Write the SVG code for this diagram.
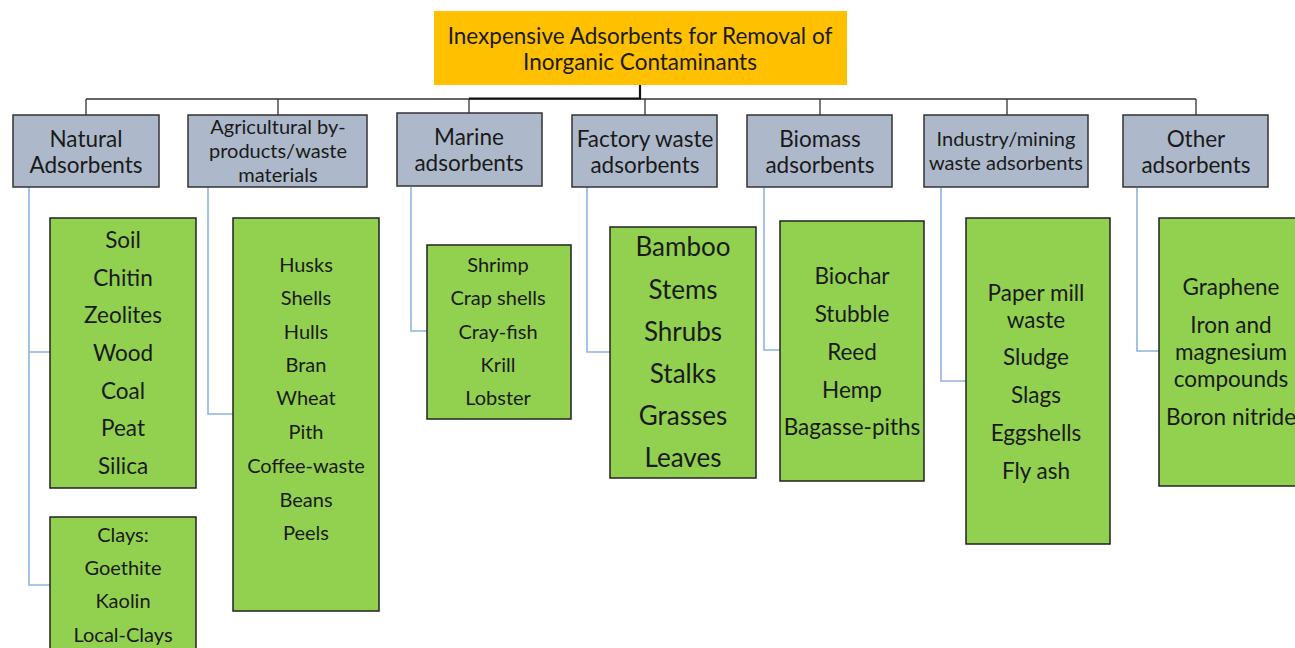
<svg xmlns="http://www.w3.org/2000/svg" width="1295" height="648" viewBox="0 0 1295 648">
<style>
text{font-family:Lato,"Liberation Sans",sans-serif;fill:#1a1a1a;text-anchor:middle;dominant-baseline:central}
.root{fill:#FFC000}
.cat{fill:#ADB9CA;stroke:#333;stroke-width:1.5}
.leaf{fill:#92D050;stroke:#222;stroke-width:1.5}
.t20{font-size:22.5px}
.t17{font-size:20px}
.t18{font-size:20px}
.t24{font-size:26px}
.tree{fill:none;stroke:#333;stroke-width:1.3}
.blue{fill:none;stroke:#8DB4E2;stroke-width:1.6}
</style>
<rect width="1295" height="648" fill="#fff"/>
<g id="connectors">
<path class="tree" d="M640 85V99M86 99H1196M86 99V115M278 99V115M469 99V113M645 99V115M820 99V115M1007 99V115M1196 99V115"/>
<path d="M640 85V98.5H469" fill="none" stroke="#111" stroke-width="2.2"/>
<path class="blue" d="M29 187V585H50M29 352H50"/>
<path class="blue" d="M208 187V414H233"/>
<path class="blue" d="M411 187V331H427"/>
<path class="blue" d="M587 187V352H610"/>
<path class="blue" d="M764 188V350H780"/>
<path class="blue" d="M941 188V381H966"/>
<path class="blue" d="M1137 188V351H1159"/>
</g>
<g id="root">
<rect class="root" x="434" y="11" width="413" height="74"/>
<text class="t20" x="640" y="35">Inexpensive Adsorbents for Removal of</text>
<text class="t20" x="640" y="61">Inorganic Contaminants</text>
</g>
<g id="cat-natural">
<rect class="cat" x="13" y="115" width="146" height="72"/>
<text class="t20" x="86" y="138">Natural</text>
<text class="t20" x="86" y="164">Adsorbents</text>
</g>
<g id="cat-agri">
<rect class="cat" x="188" y="115" width="179" height="72"/>
<text class="t17" x="278" y="126">Agricultural by-</text>
<text class="t17" x="278" y="150">products/waste</text>
<text class="t17" x="278" y="174">materials</text>
</g>
<g id="cat-marine">
<rect class="cat" x="397" y="113" width="145" height="73"/>
<text class="t20" x="469" y="136">Marine</text>
<text class="t20" x="469" y="162">adsorbents</text>
</g>
<g id="cat-factory">
<rect class="cat" x="572" y="115" width="145" height="72"/>
<text class="t20" x="645" y="138">Factory waste</text>
<text class="t20" x="645" y="164">adsorbents</text>
</g>
<g id="cat-biomass">
<rect class="cat" x="747" y="115" width="145" height="72"/>
<text class="t20" x="820" y="138">Biomass</text>
<text class="t20" x="820" y="164">adsorbents</text>
</g>
<g id="cat-industry">
<rect class="cat" x="924" y="115" width="164" height="72"/>
<text class="t17" x="1006" y="138">Industry/mining</text>
<text class="t17" x="1006" y="162">waste adsorbents</text>
</g>
<g id="cat-other">
<rect class="cat" x="1123" y="115" width="145" height="72"/>
<text class="t20" x="1196" y="138">Other</text>
<text class="t20" x="1196" y="164">adsorbents</text>
</g>
<g id="leaf-natural">
<rect class="leaf" x="50" y="218" width="146" height="270"/>
<text class="t20" x="123" y="239">Soil</text>
<text class="t20" x="123" y="277">Chitin</text>
<text class="t20" x="123" y="314">Zeolites</text>
<text class="t20" x="123" y="352">Wood</text>
<text class="t20" x="123" y="390">Coal</text>
<text class="t20" x="123" y="427">Peat</text>
<text class="t20" x="123" y="465">Silica</text>
</g>
<g id="leaf-clays">
<rect class="leaf" x="50" y="517" width="146" height="140"/>
<text class="t18" x="123" y="534">Clays:</text>
<text class="t18" x="123" y="567">Goethite</text>
<text class="t18" x="123" y="600">Kaolin</text>
<text class="t18" x="123" y="634">Local-Clays</text>
</g>
<g id="leaf-agri">
<rect class="leaf" x="233" y="218" width="146" height="393"/>
<text class="t18" x="306" y="264">Husks</text>
<text class="t18" x="306" y="297">Shells</text>
<text class="t18" x="306" y="331">Hulls</text>
<text class="t18" x="306" y="364">Bran</text>
<text class="t18" x="306" y="397">Wheat</text>
<text class="t18" x="306" y="431">Pith</text>
<text class="t18" x="306" y="465">Coffee-waste</text>
<text class="t18" x="306" y="499">Beans</text>
<text class="t18" x="306" y="532">Peels</text>
</g>
<g id="leaf-marine">
<rect class="leaf" x="427" y="245" width="144" height="174"/>
<text class="t18" x="498" y="264">Shrimp</text>
<text class="t18" x="498" y="297">Crap shells</text>
<text class="t18" x="498" y="331">Cray-fish</text>
<text class="t18" x="498" y="364">Krill</text>
<text class="t18" x="498" y="397">Lobster</text>
</g>
<g id="leaf-factory">
<rect class="leaf" x="610" y="227" width="146" height="251"/>
<text class="t24" x="683" y="246">Bamboo</text>
<text class="t24" x="683" y="289">Stems</text>
<text class="t24" x="683" y="331">Shrubs</text>
<text class="t24" x="683" y="373">Stalks</text>
<text class="t24" x="683" y="415">Grasses</text>
<text class="t24" x="683" y="457">Leaves</text>
</g>
<g id="leaf-biomass">
<rect class="leaf" x="780" y="221" width="144" height="260"/>
<text class="t20" x="852" y="275">Biochar</text>
<text class="t20" x="852" y="313">Stubble</text>
<text class="t20" x="852" y="351">Reed</text>
<text class="t20" x="852" y="389">Hemp</text>
<text class="t20" x="852" y="426">Bagasse-piths</text>
</g>
<g id="leaf-industry">
<rect class="leaf" x="966" y="218" width="144" height="326"/>
<text class="t20" x="1036" y="292">Paper mill</text>
<text class="t20" x="1036" y="319">waste</text>
<text class="t20" x="1036" y="356">Sludge</text>
<text class="t20" x="1036" y="394">Slags</text>
<text class="t20" x="1036" y="432">Eggshells</text>
<text class="t20" x="1036" y="470">Fly ash</text>
</g>
<g id="leaf-other">
<rect class="leaf" x="1159" y="218" width="145" height="268"/>
<text class="t20" x="1231" y="286">Graphene</text>
<text class="t20" x="1231" y="324">Iron and</text>
<text class="t20" x="1231" y="351">magnesium</text>
<text class="t20" x="1231" y="378">compounds</text>
<text class="t20" x="1231" y="416">Boron nitride</text>
</g>
</svg>
